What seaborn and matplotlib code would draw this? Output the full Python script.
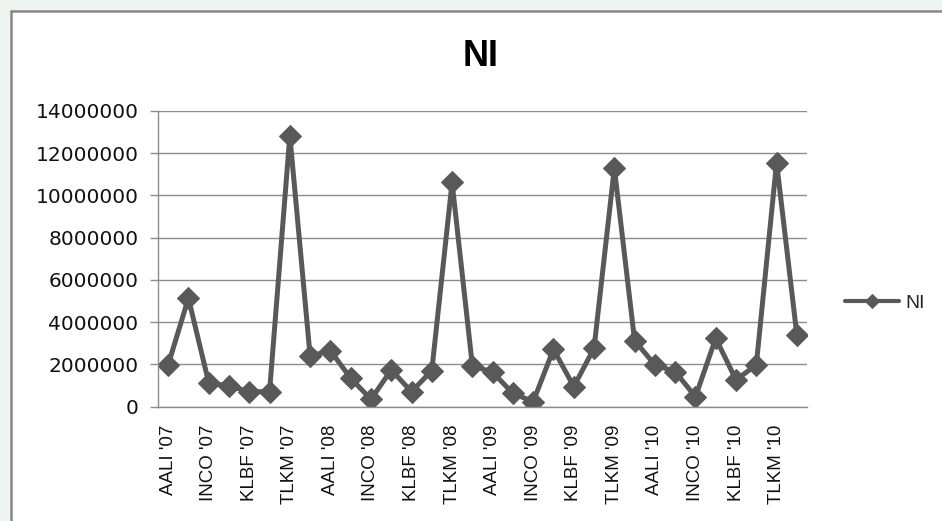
import matplotlib
matplotlib.use("Agg")
import matplotlib.pyplot as plt
from matplotlib.patches import Rectangle
import seaborn as sns
import pandas as pd
import numpy as np

# Net income per company and year (in millions)
companies = ["AALI", "ANTM", "INCO", "INDF", "KLBF", "PTBA", "TLKM", "UNVR"]
years = ["07", "08", "09", "10"]
ni_2007 = [1980000, 5140000, 1140000, 980000, 710000, 710000, 12830000, 2400000]
ni_2008 = [2650000, 1350000, 350000, 1740000, 710000, 1710000, 10620000, 1940000]
ni_2009 = [1630000, 630000, 240000, 2720000, 950000, 2770000, 11300000, 3130000]
ni_2010 = [1980000, 1660000, 470000, 3240000, 1270000, 1980000, 11560000, 3400000]

labels = [f"{c} '{y}" for y in years for c in companies]
values = ni_2007 + ni_2008 + ni_2009 + ni_2010
df = pd.DataFrame({"pos": np.arange(len(labels)), "label": labels, "NI": values})

sns.set_style("white")
plt.rcParams["font.family"] = ["DejaVu Sans"]

W, H = 942, 521
fig = plt.figure(figsize=(W / 100, H / 100), dpi=100)
fig.patch.set_facecolor("white")

# faint margin outside the chart frame
fig.patches.append(Rectangle((0, 0), 10 / W, 1, transform=fig.transFigure,
                             facecolor="#eef5f0", edgecolor="none", zorder=0))
fig.patches.append(Rectangle((0, 1 - 10 / H), 1, 10 / H, transform=fig.transFigure,
                             facecolor="#eef5f0", edgecolor="none", zorder=0))
# chart frame (left and top edges visible)
fig.add_artist(plt.Line2D([11 / W, 11 / W], [0, 1 - 11 / H], transform=fig.transFigure,
                          color="#868686", lw=1.8))
fig.add_artist(plt.Line2D([11 / W, 1], [1 - 11 / H, 1 - 11 / H], transform=fig.transFigure,
                          color="#868686", lw=1.8))

left, right = 158 / W, 807 / W
bottom, top = 1 - 406.7 / H, 1 - 111 / H
ax = fig.add_axes([left, bottom, right - left, top - bottom])
ax.set_facecolor("white")

sns.lineplot(data=df, x="pos", y="NI", ax=ax, sort=False, color="#595959",
             linewidth=3.6, marker="D", markersize=11.5, markeredgecolor="#595959",
             markerfacecolor="#595959", label="NI", legend=False)

ax.set_xlim(-0.5, len(labels) - 0.5)
ax.set_ylim(0, 14000000)
ax.set_yticks(np.arange(0, 14000001, 2000000))
ax.set_yticklabels([f"{int(v)}" for v in np.arange(0, 14000001, 2000000)])
ax.yaxis.grid(True, color="#8c8c8c", linewidth=1.0)
ax.set_axisbelow(True)

# category boundaries as tick marks, every other category labelled
ax.set_xticks(np.arange(-0.5, len(labels), 1.0), minor=True)
ax.set_xticks(np.arange(0, len(labels), 2))
ax.set_xticklabels([labels[i] for i in range(0, len(labels), 2)], rotation=90,
                   family="Liberation Sans", fontsize=13.5)
ax.tick_params(axis="x", which="major", length=0, pad=13)
ax.tick_params(axis="x", which="minor", length=6, width=1, color="#8c8c8c", direction="out")
ax.tick_params(axis="y", which="major", length=6, width=1, color="#8c8c8c",
               direction="out", labelsize=14.5, pad=8, left=True)
for lab in ax.get_yticklabels():
    lab.set_color("#111111")
for lab in ax.get_xticklabels():
    lab.set_color("#111111")

for s in ["top", "right"]:
    ax.spines[s].set_visible(False)
for s in ["left", "bottom"]:
    ax.spines[s].set_color("#8c8c8c")
    ax.spines[s].set_linewidth(1.0)
ax.set_xlabel("")
ax.set_ylabel("")

handles, _ = ax.get_legend_handles_labels()
leg = fig.legend(handles, ["NI"], loc="center left",
                 bbox_to_anchor=(845 / W, 1 - 303 / H), bbox_transform=fig.transFigure,
                 frameon=False, borderpad=0, borderaxespad=0, handlelength=2.8,
                 handletextpad=0.3, markerscale=0.65,
                 prop={"family": "Liberation Sans", "size": 14})
for line in leg.get_lines():
    line.set_linewidth(3)

fig.text(481 / W, 1 - 56 / H, "NI", ha="center", va="center", color="black",
         family="Liberation Sans", fontweight="bold", fontsize=26)

fig.savefig("out.png", dpi=100, facecolor=fig.get_facecolor())
